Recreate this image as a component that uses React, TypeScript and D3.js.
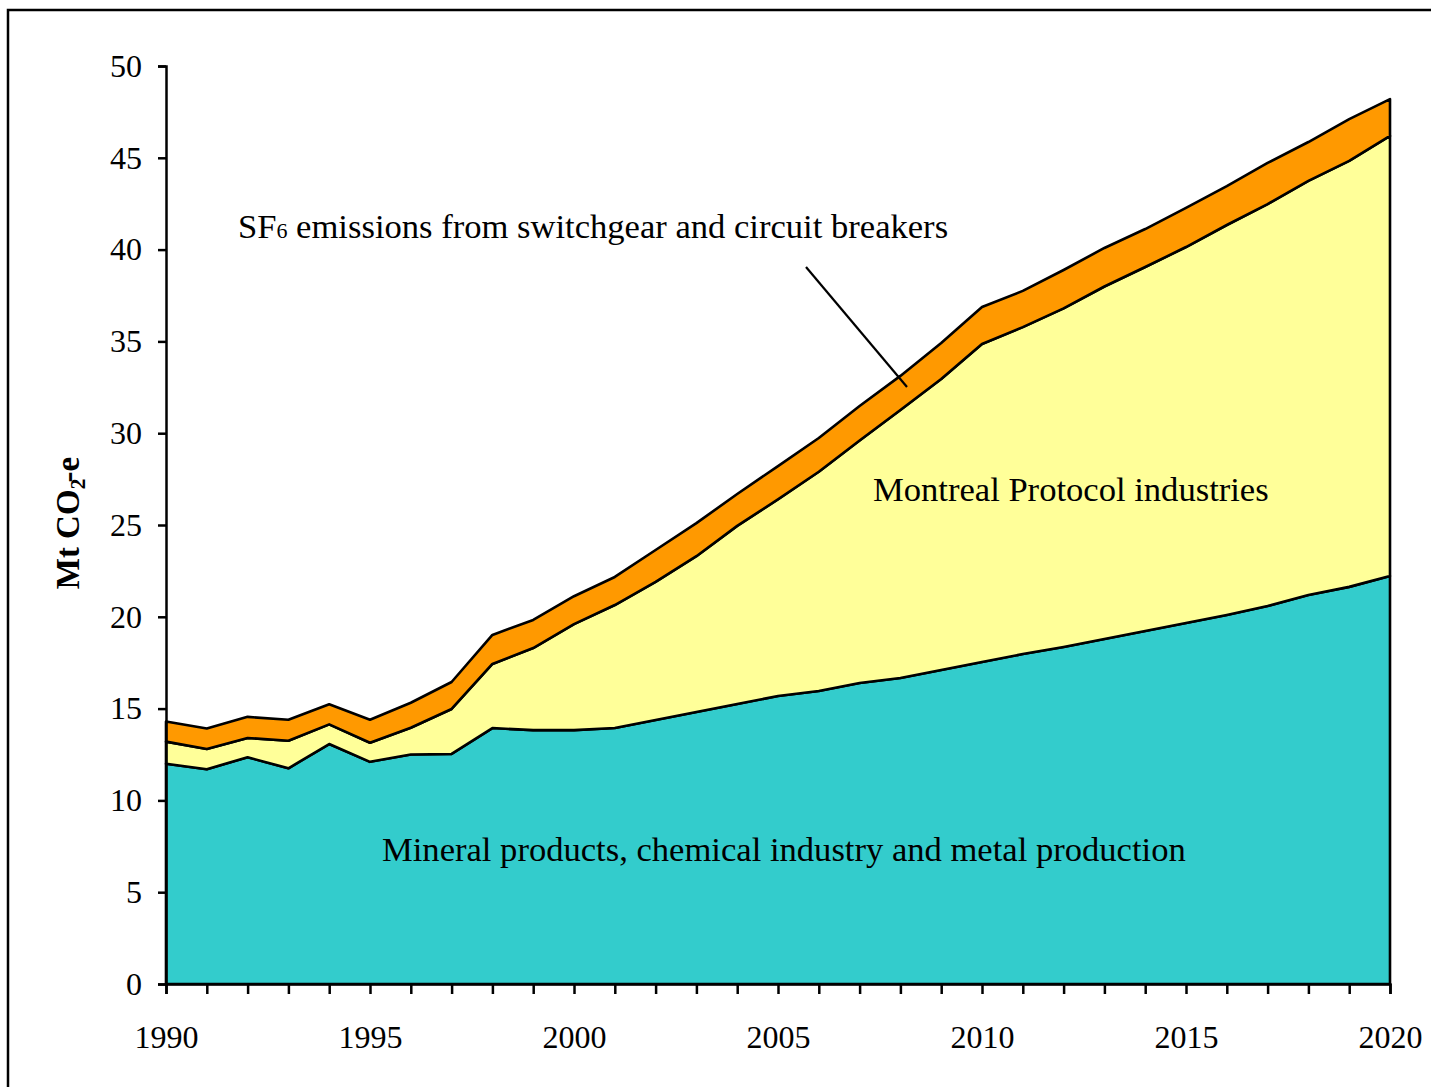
import React, {useEffect, useRef} from "react";
import * as d3 from "d3";

const years = d3.range(1990, 2021);

// Mt CO2-e per layer
const mineral = [
  12.0, 11.7, 12.35, 11.75, 13.07, 12.1, 12.5, 12.53, 13.94, 13.83, 13.83,
  13.94, 14.38, 14.81, 15.25, 15.69, 15.96, 16.39, 16.67, 17.1, 17.54,
  17.97, 18.36, 18.79, 19.23, 19.66, 20.1, 20.59, 21.19, 21.63, 22.22,
];
const montreal = [
  1.2, 1.1, 1.05, 1.5, 1.07, 1.04, 1.46, 2.45, 3.49, 4.47, 5.77,
  6.7, 7.52, 8.49, 9.7, 10.71, 11.94, 13.21, 14.59, 15.85, 17.32,
  17.81, 18.44, 19.2, 19.82, 20.48, 21.24, 21.89, 22.55, 23.2, 23.97,
];
const sf6 = [
  1.1, 1.12, 1.15, 1.14, 1.1, 1.25, 1.36, 1.47, 1.58, 1.53, 1.52,
  1.53, 1.74, 1.8, 1.74, 1.81, 1.84, 1.88, 1.86, 1.96, 2.01,
  1.97, 2.09, 2.1, 2.07, 2.13, 2.12, 2.24, 2.12, 2.28, 2.01,
];

const keys = ["mineral", "montreal", "sf6"];
const colors: Record<string, string> = {
  mineral: "#33CCCC",
  montreal: "#FFFF99",
  sf6: "#FF9900",
};
const yTicks = d3.range(0, 51, 5);

const FONT = "'Liberation Serif', 'Times New Roman', serif";

export default function App() {
  const ref = useRef<SVGSVGElement>(null);

  useEffect(() => {
    document.body.style.margin = "0";
    const svg = d3.select(ref.current);
    svg.selectAll("*").remove();

    const rows = years.map((year, i) => ({
      year,
      mineral: mineral[i],
      montreal: montreal[i],
      sf6: sf6[i],
    }));

    const x = d3.scaleLinear().domain([1990, 2020]).range([166, 1390]);
    const y = d3.scaleLinear().domain([0, 50]).range([984, 66]);

    // outer frame
    svg
      .append("rect")
      .attr("x", 8)
      .attr("y", 10)
      .attr("width", 1460)
      .attr("height", 1120)
      .attr("fill", "none")
      .attr("stroke", "black")
      .attr("stroke-width", 2.5);

    const series = d3.stack<any>().keys(keys)(rows);
    const area = d3
      .area<any>()
      .x((d) => x(d.data.year))
      .y0((d) => y(d[0]))
      .y1((d) => y(d[1]));

    svg
      .append("g")
      .selectAll("path")
      .data(series)
      .join("path")
      .attr("d", area)
      .attr("fill", (d) => colors[d.key])
      .attr("stroke", "black")
      .attr("stroke-width", 2.6)
      .attr("stroke-linejoin", "round");

    // axes
    const yAxis = svg
      .append("g")
      .attr("transform", `translate(${x(1990)},0)`)
      .call(d3.axisLeft(y).tickValues(yTicks).tickSize(8).tickPadding(16));
    const xAxis = svg
      .append("g")
      .attr("transform", `translate(0,${y(0)})`)
      .call(
        d3
          .axisBottom(x)
          .tickValues(years)
          .tickSize(10)
          .tickPadding(31)
          .tickFormat((d: any) => (d % 5 === 0 ? String(d) : ""))
      );
    [yAxis, xAxis].forEach((g) => {
      g.selectAll("path, line").attr("stroke", "black").attr("stroke-width", 2.5);
      g.selectAll("text")
        .attr("fill", "black")
        .style("font-family", FONT)
        .style("font-size", "32px");
    });

    // y axis title
    const yt = svg
      .append("text")
      .attr("transform", "translate(79,523) rotate(-90)")
      .attr("text-anchor", "middle")
      .style("font-family", FONT)
      .style("font-size", "33px")
      .style("font-weight", "bold");
    yt.append("tspan").text("Mt CO");
    yt.append("tspan").attr("dy", 6).style("font-size", "22px").text("2");
    yt.append("tspan").attr("dy", -6).attr("dx", -4).text("-e");

    // annotations
    const sf = svg
      .append("text")
      .attr("x", 238)
      .attr("y", 238)
      .style("font-family", FONT)
      .style("font-size", "34.6px");
    sf.append("tspan").text("SF");
    sf.append("tspan").style("font-size", "22px").text("6");
    sf.append("tspan").text(" emissions from switchgear and circuit breakers");

    svg
      .append("line")
      .attr("x1", 806)
      .attr("y1", 267)
      .attr("x2", 907)
      .attr("y2", 387)
      .attr("stroke", "black")
      .attr("stroke-width", 2.2);

    svg
      .append("text")
      .attr("x", 873)
      .attr("y", 501)
      .style("font-family", FONT)
      .style("font-size", "34.6px")
      .text("Montreal Protocol industries");

    svg
      .append("text")
      .attr("x", 382)
      .attr("y", 861)
      .style("font-family", FONT)
      .style("font-size", "34.6px")
      .text("Mineral products, chemical industry and metal production");
  }, []);

  return (
    <svg
      ref={ref}
      width={1431}
      height={1087}
      style={{display: "block", background: "white"}}
    />
  );
}
